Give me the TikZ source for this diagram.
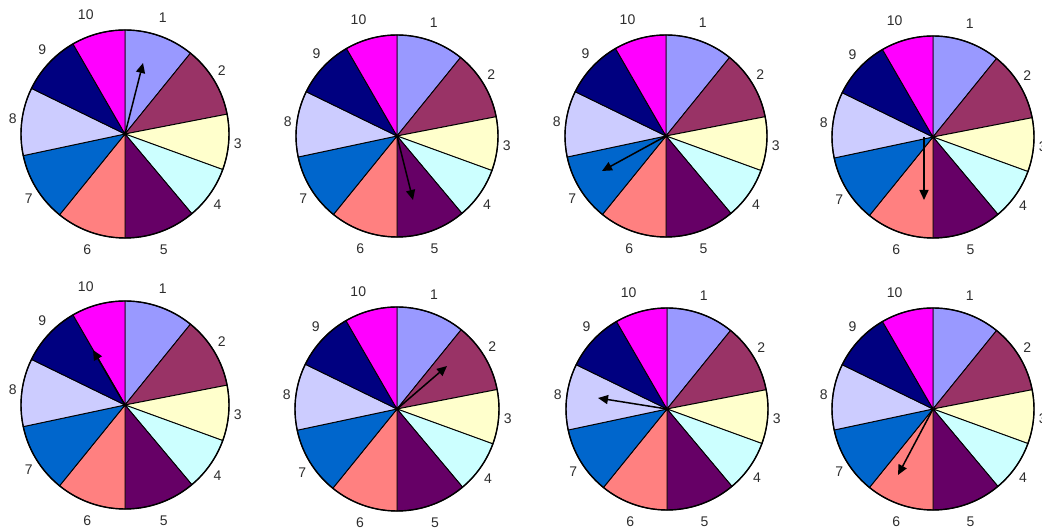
\documentclass[tikz,border=0pt]{standalone}
\usepackage{fontspec}
\setmainfont{Liberation Sans}
\usepackage{tikz}
\usetikzlibrary{arrows.meta,calc}
\definecolor{secone}{RGB}{153,153,255}
\definecolor{sectwo}{RGB}{153,51,102}
\definecolor{secthree}{RGB}{255,255,204}
\definecolor{secfour}{RGB}{204,255,255}
\definecolor{secfive}{RGB}{102,0,102}
\definecolor{secsix}{RGB}{255,128,128}
\definecolor{secseven}{RGB}{0,102,204}
\definecolor{seceight}{RGB}{204,204,255}
\definecolor{secnine}{RGB}{0,0,128}
\definecolor{secten}{RGB}{255,0,255}
\definecolor{labelgray}{RGB}{45,45,45}

% #1 name, #2 centre, #3 radius, #4 arrow start, #5 arrow tip (relative)
\newcommand{\roulette}[5]{%
  \coordinate (#1) at (#2);
  \foreach \a/\b/\c/\s [count=\i] in {90/51/secone/0,51/11/sectwo/0,11/-20/secthree/0,
      -20/-50/secfour/0,-50/-90/secfive/0,-90/-129/secsix/0,-129/-168/secseven/0,
      -168/-206/seceight/0,-206/-240/secnine/0,-240/-270/secten/-10}{
    \filldraw[fill=\c,draw=black,line width=0.9pt]
      (#1) -- ($(#1)+(\a:#3)$) arc[start angle=\a,end angle=\b,radius=#3] -- cycle;
    \node[lbl,xshift=\s] (#1-\i) at ($(#1)+({(\a+\b)/2}:{#3+9} and {#3+19})$) {\i};
  }
  \draw[line width=1.4pt] (#1) circle[radius=#3];
  \coordinate (#1-from) at ($(#1)+(#4)$);
  \coordinate (#1-tip) at ($(#1)+(#5)$);
  \draw[pointer] (#1-from) -- (#1-tip);
}

\begin{document}
\begin{tikzpicture}[x=1pt,y=1pt,
    lbl/.style={text=labelgray,inner sep=0pt,font=\fontsize{14}{16}\selectfont},
    pointer/.style={line width=1.5pt,-{Triangle[length=10pt,width=9pt]}}]
  \useasboundingbox (0,0) rectangle (1042,529);
  % top row
  \roulette{wA}{125,395}{104}{0,0}{18,71}
  \roulette{wB}{397,393}{101}{0,0}{16,-64}
  \roulette{wC}{666,393}{101}{0,0}{-64,-35}
  \roulette{wD}{933,392}{101}{-9,0}{-9,-63}
  % bottom row
  \roulette{wE}{125,124}{104}{0,0}{-32,55}
  \roulette{wF}{397,120}{102}{0,0}{50,43}
  \roulette{wG}{667,120}{101}{0,0}{-69,11}
  \roulette{wH}{933,120}{101}{0,0}{-35,-66}
\end{tikzpicture}
\end{document}
